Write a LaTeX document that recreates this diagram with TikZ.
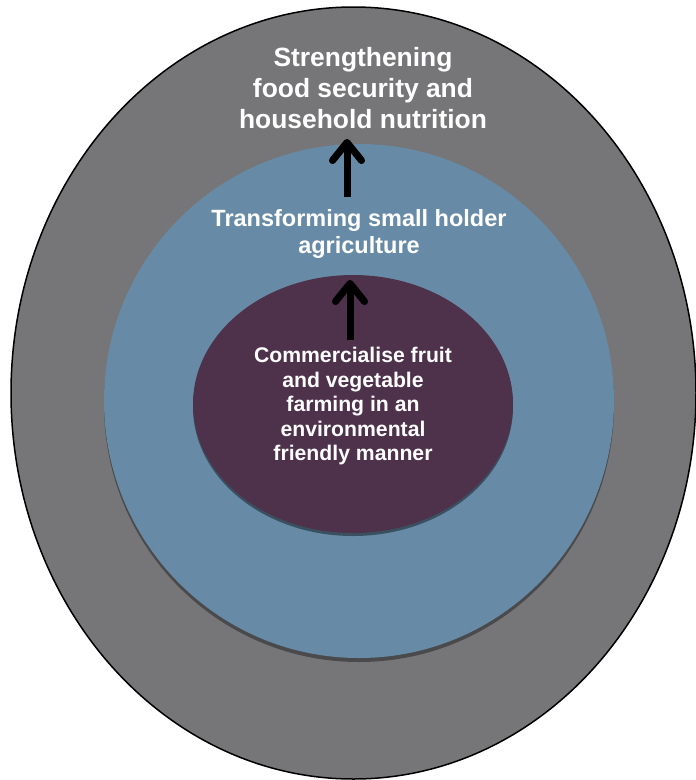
\documentclass[tikz,border=0pt]{standalone}
\usepackage{fontspec}
\setmainfont{Liberation Sans}
\usepackage{tikz}
\usetikzlibrary{arrows.meta,shapes.geometric,shadows}
\definecolor{col1}{RGB}{118,118,120}
\definecolor{col2}{RGB}{103,139,166}
\definecolor{col3}{RGB}{78,49,74}
\definecolor{col4}{RGB}{74,74,76}
\definecolor{col5}{RGB}{58,80,96}
\tikzstyle{ring}=[ellipse, inner sep=0pt, outer sep=0pt]
\tikzstyle{lbl}=[text=white, align=center, inner sep=0pt, anchor=north]
\tikzstyle{uparrow}=[line width=7pt, -{Straight Barb[length=18pt,width=29pt,round]}]

\begin{document}
\begin{tikzpicture}[x=1pt,y=-1pt]
		    \useasboundingbox (0,0) rectangle (696,780);
		    \node [ring, draw, line width=1.5pt, fill=col1, minimum width=685pt, minimum height=772pt] (outer) at (353.5,393) {};
		    \node [ring, fill=col2, minimum width=510pt, minimum height=514pt, drop shadow={shadow xshift=0pt, shadow yshift=-4pt, fill=col4, opacity=1}] (mid) at (359,401) {};
		    \node [ring, fill=col3, minimum width=320pt, minimum height=258pt, drop shadow={shadow xshift=0pt, shadow yshift=-3pt, fill=col5, opacity=1}] (inner) at (353,404) {};
		    \node [lbl, font=\bfseries\fontsize{26.4}{31}\selectfont] (goal) at (363,47) {Strengthening\\food security and\\household nutrition};
		    \node [lbl, font=\bfseries\fontsize{23.5}{27}\selectfont] (trans) at (359,209) {Transforming small holder\\agriculture};
		    \node [lbl, font=\bfseries\fontsize{21.2}{24.5}\selectfont] (comm) at (353,347) {Commercialise fruit\\and vegetable\\farming in an\\environmental\\friendly manner};
		    \coordinate (a1s) at (347,197);
		    \coordinate (a1e) at (347,139);
		    \coordinate (a2s) at (350,340);
		    \coordinate (a2e) at (350,280);
		    \draw [uparrow, black, opacity=.3, yshift=-2pt] (a1s) -- (a1e);
		    \draw [uparrow, black, opacity=.3, yshift=-2pt] (a2s) -- (a2e);
		    \draw [uparrow] (a1s) -- (a1e);
		    \draw [uparrow] (a2s) -- (a2e);
		\end{tikzpicture}
\end{document}
